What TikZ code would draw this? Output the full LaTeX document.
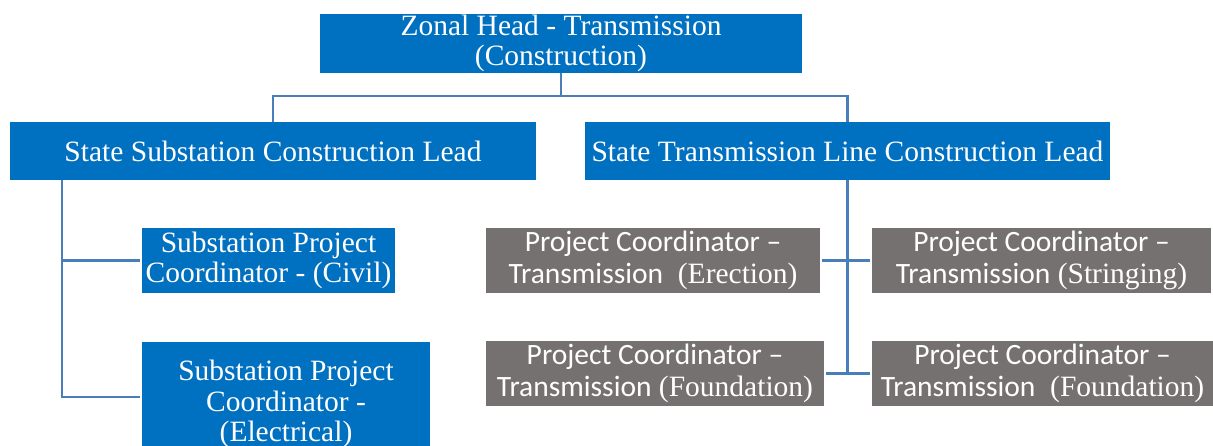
\documentclass[tikz,border=0pt]{standalone}
\usepackage{fontspec}
\setmainfont{Liberation Serif}
\newfontfamily\calib{Carlito}
\definecolor{bluebox}{HTML}{0070C0}
\definecolor{graybox}{HTML}{767171}
\definecolor{linec}{HTML}{4A7EBB}
\begin{document}
\begin{tikzpicture}[x=1pt,y=-1pt,
  boxbase/.style={rectangle, inner sep=0pt, text=white, align=center, font=\fontsize{29.5}{30.5}\selectfont},
  bbox/.style={boxbase, fill=bluebox},
  gbox/.style={boxbase, fill=graybox, font=\fontsize{29.5}{32}\selectfont},
  conn/.style={draw=linec, line width=2.6pt}]
\useasboundingbox (0,0) rectangle (1213,446);
\node[bbox, minimum width=482, minimum height=59] (zh) at (561,43.5) {Zonal Head - Transmission\\(Construction)};
\node[bbox, minimum width=526, minimum height=58] (ssl) at (273,151) {State Substation Construction Lead};
\node[bbox, minimum width=525, minimum height=58] (stl) at (847.5,151) {State Transmission Line Construction Lead};
\node[bbox, minimum width=253, minimum height=65] (civ) at (268.5,260.5) {Substation Project\\Coordinator - (Civil)};
\node[bbox, minimum width=288, minimum height=124] (ele) at (286,404) {Substation Project\\Coordinator -\\(Electrical)};
\node[gbox, minimum width=334, minimum height=65] (ere) at (653,260.5) {{\calib Project Coordinator –}\\{\calib Transmission}\ \ (Erection)};
\node[gbox, minimum width=339, minimum height=65] (str) at (1041.5,260.5) {{\calib Project Coordinator –}\\{\calib Transmission} (Stringing)};
\node[gbox, minimum width=338, minimum height=65] (fl) at (655,373.5) {{\calib Project Coordinator –}\\{\calib Transmission} (Foundation)};
\node[gbox, minimum width=341, minimum height=65] (fr) at (1042.5,373.5) {{\calib Project Coordinator –}\\{\calib Transmission}\ \ (Foundation)};
\coordinate (j) at (561,96);
\coordinate (ls) at (62,180);
\draw[conn] (zh.south) -- (j);
\draw[conn] (ssl.north) |- (j) -| (stl.north);
\draw[conn] (ls) |- ([xshift=-2pt]civ.west);
\draw[conn] (ls) |- ([xshift=-2pt,yshift=7pt]ele.west);
\draw[conn] (stl.south) -- (stl.south |- fl.east);
\draw[conn] ([xshift=2pt]ere.east) -- ([xshift=-2pt]str.west);
\draw[conn] ([xshift=2pt]fl.east) -- ([xshift=-2pt]fr.west);
\end{tikzpicture}
\end{document}
